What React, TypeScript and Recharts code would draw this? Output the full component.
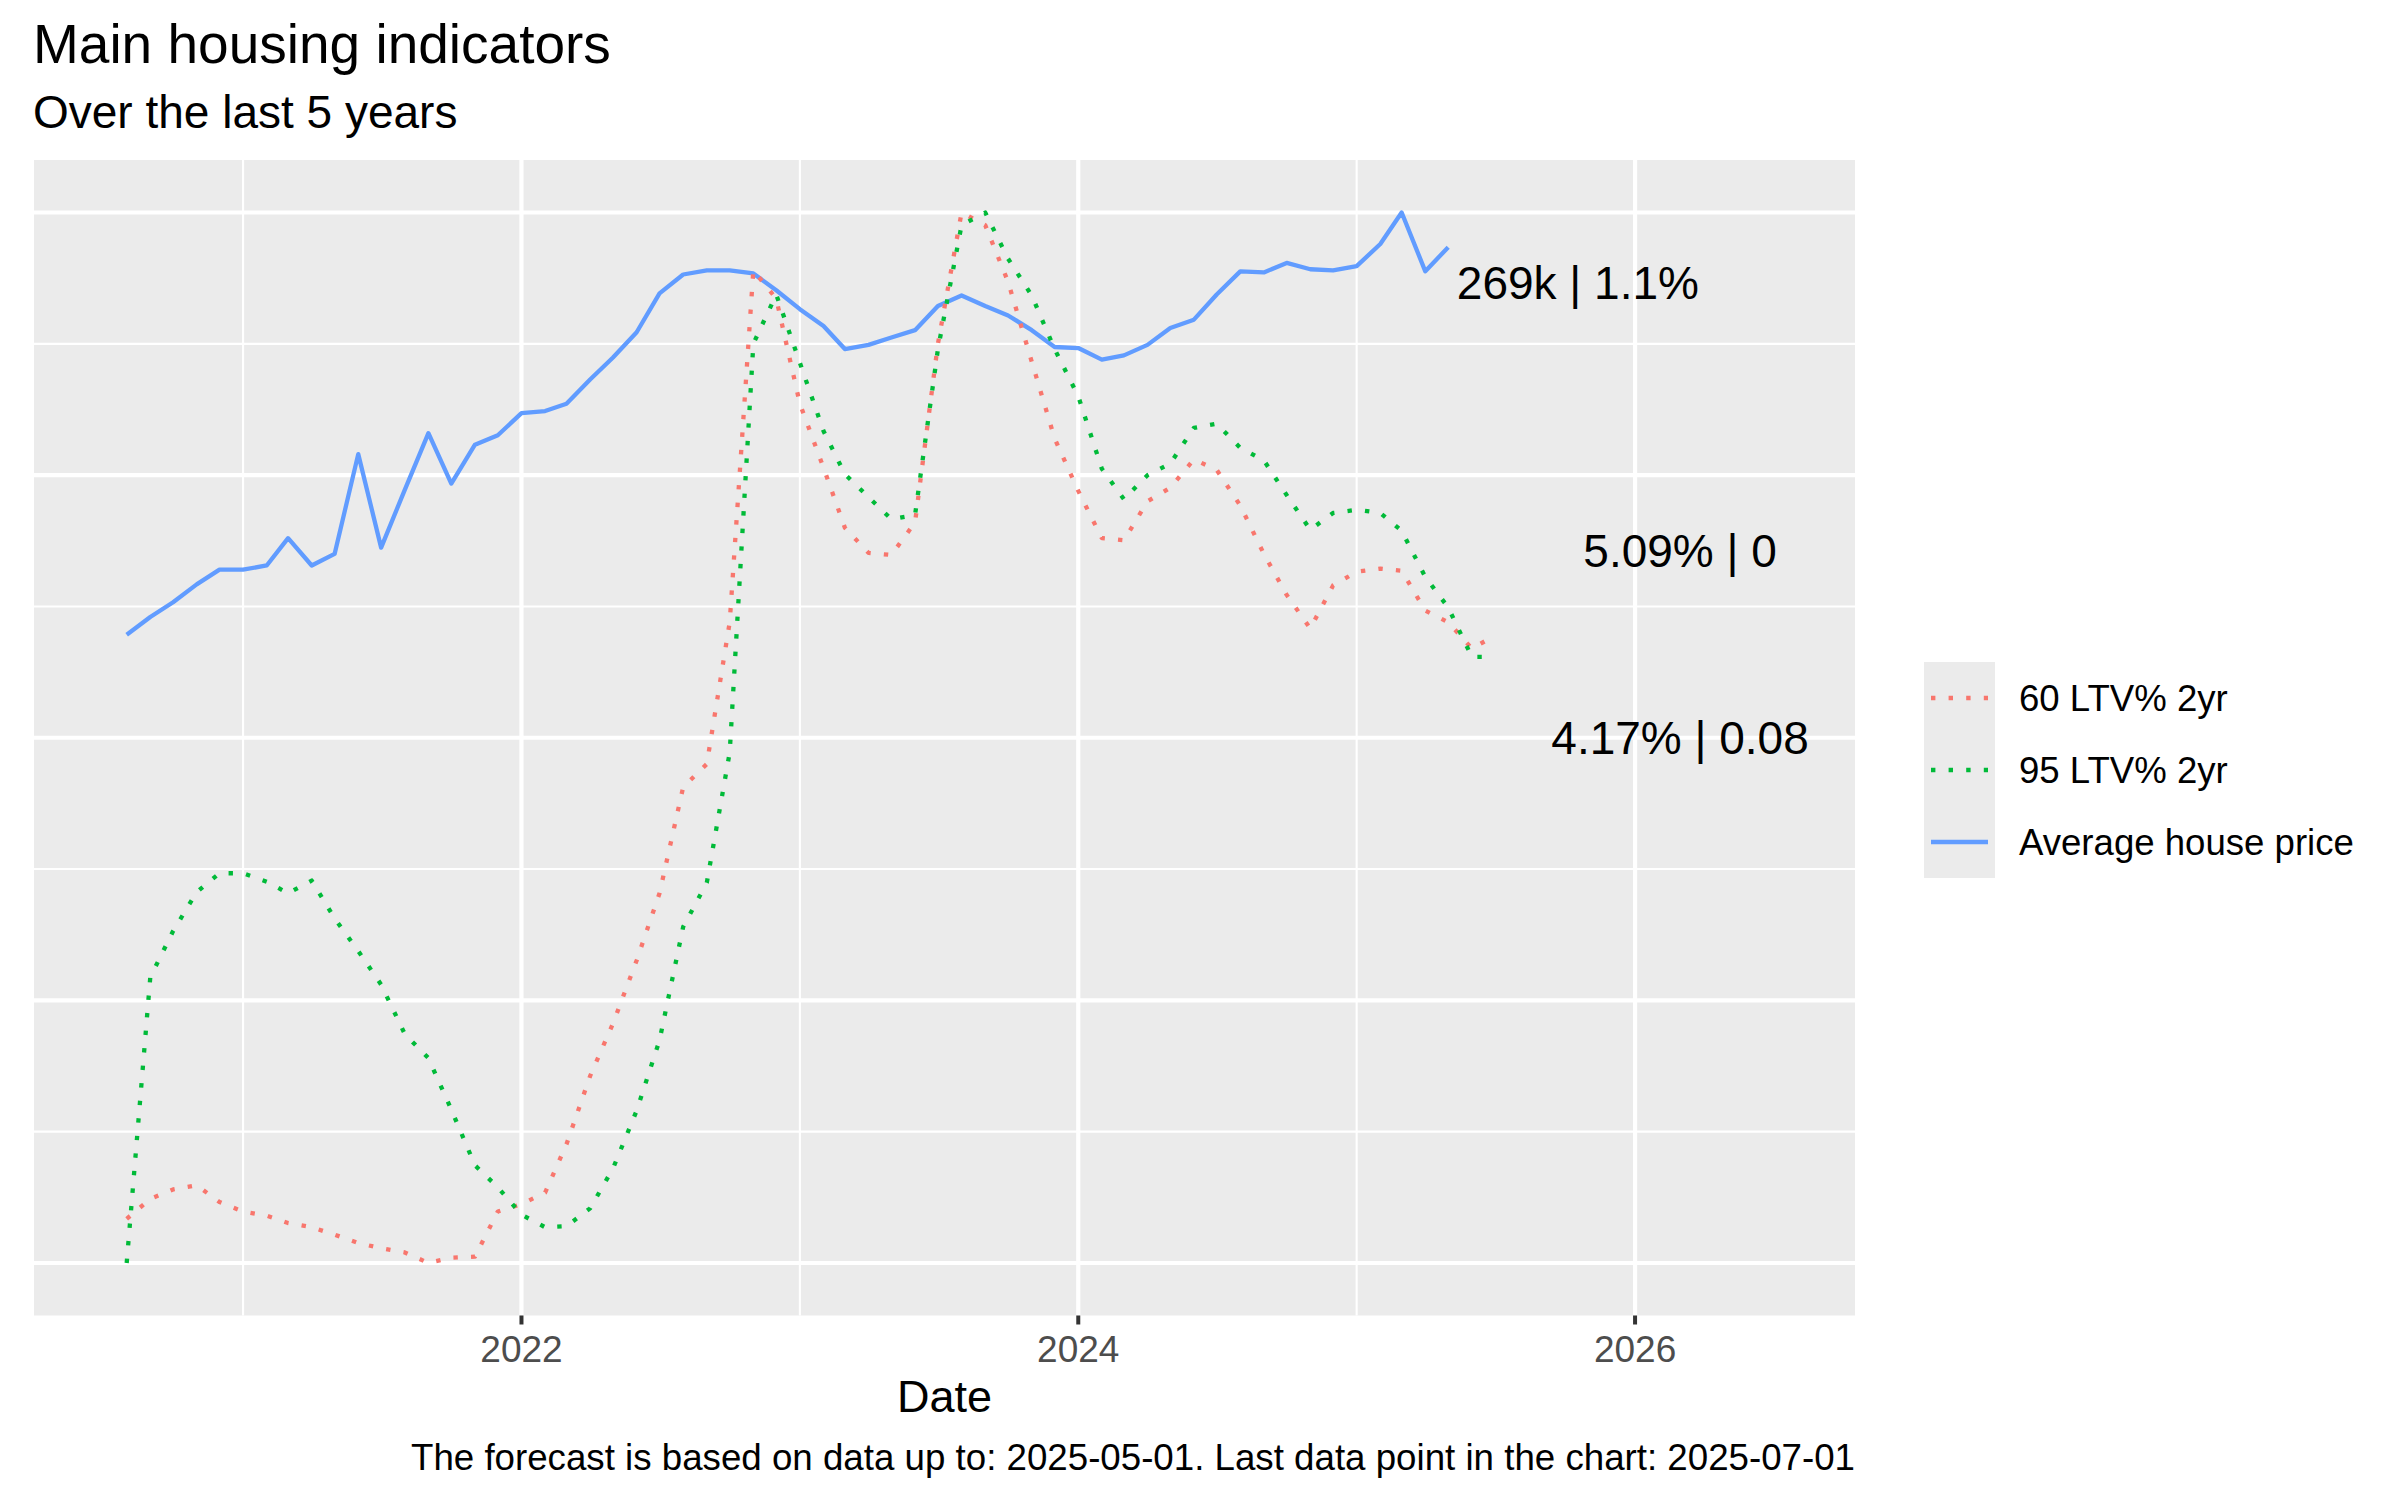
import React from 'react';
import { LineChart, Line, XAxis, YAxis, CartesianGrid, ReferenceDot } from 'recharts';

const FONT = '"Liberation Sans", Arial, Helvetica, sans-serif';

// monthly observations
const months = [
  '2020-08', '2020-09', '2020-10', '2020-11', '2020-12',
  '2021-01', '2021-02', '2021-03', '2021-04', '2021-05', '2021-06',
  '2021-07', '2021-08', '2021-09', '2021-10', '2021-11', '2021-12',
  '2022-01', '2022-02', '2022-03', '2022-04', '2022-05', '2022-06',
  '2022-07', '2022-08', '2022-09', '2022-10', '2022-11', '2022-12',
  '2023-01', '2023-02', '2023-03', '2023-04', '2023-05', '2023-06',
  '2023-07', '2023-08', '2023-09', '2023-10', '2023-11', '2023-12',
  '2024-01', '2024-02', '2024-03', '2024-04', '2024-05', '2024-06',
  '2024-07', '2024-08', '2024-09', '2024-10', '2024-11', '2024-12',
  '2025-01', '2025-02', '2025-03', '2025-04', '2025-05', '2025-06',
  '2025-07',
];

// rescaled indicators (0 = min, 1 = max)
const avgHousePrice = [
  0.598, 0.615, 0.629, 0.646, 0.660, 0.660, 0.664, 0.690, 0.664, 0.675,
  0.770, 0.681, 0.736, 0.790, 0.742, 0.779, 0.788, 0.809, 0.811, 0.818,
  0.841, 0.862, 0.886, 0.923, 0.941, 0.945, 0.945, 0.942, 0.926, 0.908,
  0.892, 0.870, 0.874, 0.881, 0.888, 0.911, 0.921, 0.911, 0.902, 0.888,
  0.872, 0.871, 0.860, 0.864, 0.874, 0.890, 0.898, 0.922, 0.944, 0.943,
  0.952, 0.946, 0.945, 0.949, 0.970, 1.000, 0.944, 0.967,
];

const ltv60 = [
  0.042, 0.061, 0.070, 0.074, 0.058, 0.049, 0.045, 0.038, 0.034, 0.027,
  0.019, 0.014, 0.010, 0.000, 0.005, 0.006, 0.049, 0.056, 0.067, 0.113,
  0.178, 0.228, 0.288, 0.352, 0.453, 0.475, 0.610, 0.945, 0.918, 0.818,
  0.757, 0.700, 0.676, 0.674, 0.705, 0.875, 1.000, 0.988, 0.934, 0.858,
  0.785, 0.735, 0.690, 0.688, 0.725, 0.738, 0.765, 0.755, 0.721, 0.675,
  0.636, 0.604, 0.645, 0.658, 0.661, 0.659, 0.621, 0.610, 0.585, 0.597,
];

const ltv95 = [
  0.000, 0.272, 0.316, 0.353, 0.371, 0.371, 0.363, 0.352, 0.364, 0.328,
  0.297, 0.265, 0.218, 0.195, 0.146, 0.093, 0.072, 0.046, 0.034, 0.035,
  0.052, 0.090, 0.145, 0.212, 0.320, 0.362, 0.486, 0.875, 0.922, 0.857,
  0.792, 0.751, 0.729, 0.708, 0.712, 0.870, 0.988, 1.000, 0.956, 0.921,
  0.870, 0.825, 0.756, 0.727, 0.750, 0.761, 0.795, 0.799, 0.776, 0.764,
  0.731, 0.698, 0.714, 0.717, 0.714, 0.697, 0.653, 0.624, 0.577, 0.577,
];

const endLabels = [
  { date: '2025-10-18', value: 0.933, text: '269k | 1.1%' },
  { date: '2026-03-01', value: 0.678, text: '5.09% | 0' },
  { date: '2026-03-01', value: 0.5, text: '4.17% | 0.08' },
];

const xMajor = [2022, 2024, 2026];
const xMinor = [2021, 2023, 2025];
const yMajor = [0, 0.25, 0.5, 0.75, 1];
const yMinor = [0.125, 0.375, 0.625, 0.875];

const DOTTED = '4.4 13.2';
const series = [
  { key: 'price', name: 'Average house price', color: '#619CFF', dash: undefined },
  { key: 'ltv60', name: '60 LTV% 2yr', color: '#F8766D', dash: DOTTED },
  { key: 'ltv95', name: '95 LTV% 2yr', color: '#00BA38', dash: DOTTED },
];
const legendOrder = ['ltv60', 'ltv95', 'price'];

function toYear(s: string) {
  const [y, m, d = 1] = s.split('-').map(Number);
  const start = Date.UTC(y, 0, 1);
  const end = Date.UTC(y + 1, 0, 1);
  return y + (Date.UTC(y, m - 1, d) - start) / (end - start);
}

const rows = months.map((m, i) => ({
  t: toYear(m),
  price: avgHousePrice[i],
  ltv60: ltv60[i],
  ltv95: ltv95[i],
}));

function DateTick(props: any) {
  const { x, y, payload } = props;
  if (!xMajor.includes(payload.value)) return <g />;
  return (
    <g>
      <line x1={x} x2={x} y1={y} y2={y + 9} stroke="#333333" strokeWidth={4} />
      <text x={x} y={y + 46} textAnchor="middle" fontSize={37} fill="#4D4D4D" fontFamily={FONT}>
        {payload.value}
      </text>
    </g>
  );
}

const NoTick = () => <g />;

export default function App() {
  return (
    <div style={{ position: 'absolute', left: 0, top: 0, width: 2400, height: 1500, background: '#fff' }}>
      <LineChart
        width={2400}
        height={1500}
        data={rows}
        margin={{ top: 160, right: 545, bottom: 183.5, left: 34 }}
      >
        <CartesianGrid
          fill="#EBEBEB"
          stroke="#FFFFFF"
          strokeWidth={2.1}
          horizontalValues={yMinor}
          verticalValues={xMinor}
        />
        <CartesianGrid
          fill="none"
          stroke="#FFFFFF"
          strokeWidth={4.2}
          horizontalValues={yMajor}
          verticalValues={xMajor}
        />
        <XAxis
          dataKey="t"
          type="number"
          domain={[2020.249, 2026.79]}
          allowDataOverflow
          ticks={xMajor}
          interval={0}
          height={1}
          axisLine={false}
          tickLine={false}
          tickSize={0}
          tickMargin={0}
          tick={<DateTick />}
        />
        <YAxis
          type="number"
          domain={[-0.05, 1.05]}
          allowDataOverflow
          ticks={yMajor}
          interval={0}
          width={0}
          tick={<NoTick />}
          axisLine={false}
          tickLine={false}
        />
        {series.map(s => (
          <Line
            key={s.key}
            type="linear"
            dataKey={s.key}
            name={s.name}
            stroke={s.color}
            strokeWidth={4.3}
            strokeDasharray={s.dash}
            strokeLinecap="butt"
            strokeLinejoin="round"
            dot={false}
            activeDot={false}
            isAnimationActive={false}
          />
        ))}
        {endLabels.map(l => (
          <ReferenceDot
            key={l.text}
            x={toYear(l.date)}
            y={l.value}
            r={0}
            fill="none"
            stroke="none"
            label={{ value: l.text, position: 'center', fontSize: 46, fill: '#000000', fontFamily: FONT }}
          />
        ))}
      </LineChart>

      <svg width={2400} height={1500} style={{ position: 'absolute', left: 0, top: 0, pointerEvents: 'none' }}>
        <g fontFamily={FONT} fill="#000000">
          <text x={33} y={63} fontSize={55}>Main housing indicators</text>
          <text x={33} y={128} fontSize={46}>Over the last 5 years</text>
          <text x={944.5} y={1412} fontSize={45} textAnchor="middle">Date</text>
          <text x={1855} y={1470} fontSize={36.7} textAnchor="end">
            The forecast is based on data up to: 2025-05-01. Last data point in the chart: 2025-07-01
          </text>
        </g>
        <rect x={1924} y={662} width={71} height={216} fill="#EBEBEB" />
        {legendOrder.map((k, i) => {
          const s = series.find(d => d.key === k)!;
          const cy = 698 + i * 72;
          return (
            <g key={k}>
              <line x1={1931} x2={1988} y1={cy} y2={cy} stroke={s.color} strokeWidth={4.3} strokeDasharray={s.dash} />
              <text x={2019} y={cy + 13} fontSize={36.6} fontFamily={FONT} fill="#000000">{s.name}</text>
            </g>
          );
        })}
      </svg>
    </div>
  );
}
